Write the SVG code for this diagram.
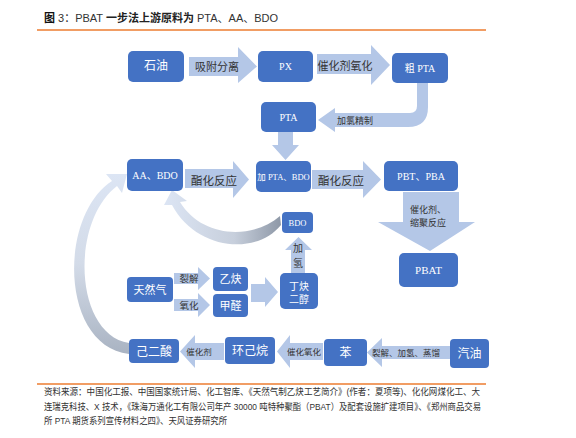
<svg xmlns="http://www.w3.org/2000/svg" width="576" height="438" viewBox="0 0 576 438">
<defs>
<style>
.box{fill:#4472c4}
.arr{fill:#b4c7e7}
.bt{fill:#fff;font-family:"Liberation Serif","Noto Sans CJK SC",serif;text-anchor:middle}
.lt{fill:#333;font-family:"Liberation Serif","Noto Sans CJK SC",serif;text-anchor:middle}
.src{fill:#333;font-family:"Liberation Sans","Noto Sans CJK SC",sans-serif;font-size:9.5px}
.rule{stroke:#ed7d31;stroke-width:1.5}
</style>
<linearGradient id="gBig" x1="0" y1="0" x2="0" y2="1">
<stop offset="0" stop-color="#dce5f4"/>
<stop offset="0.5" stop-color="#d3dbe8"/>
<stop offset="1" stop-color="#a9b3c2"/>
</linearGradient>
<linearGradient id="gSmall" x1="0" y1="0" x2="1" y2="0">
<stop offset="0" stop-color="#dce5f4"/>
<stop offset="0.6" stop-color="#c7cfdc"/>
<stop offset="1" stop-color="#8e98a7"/>
</linearGradient>
</defs>
<rect width="576" height="438" fill="#fff"/>

<text x="44" y="22" font-family="Liberation Sans,Noto Sans CJK SC,sans-serif" font-size="11" fill="#333"><tspan font-weight="bold" fill="#111">图</tspan> 3：PBAT <tspan font-weight="bold" fill="#222">一步法上游原料为</tspan> PTA、AA、BDO</text>
<line class="rule" x1="37" y1="30" x2="486" y2="30"/>

<g id="connectors">
<polygon class="arr" points="189,57 238,57 238,47 257,66.5 238,83 238,76 189,76"/>
<text class="lt" x="217" y="71" font-size="11">吸附分离</text>
<polygon class="arr" points="317,54 371,54 371,45 390,65 371,85 371,74 317,74"/>
<text class="lt" x="345" y="70" font-size="11">催化剂氧化</text>
<path class="arr" d="M417,83 L428,83 L428,107 Q428,127 408,127 L335,127 L335,132 L318,120 L335,108 L335,113 L410,113 Q417,113 417,106 Z"/>
<text class="lt" x="355" y="124" font-size="9">加氯精制</text>
<polygon class="arr" points="278,132 293,132 293,145 299,145 285.5,160 272,145 278,145"/>
<polygon class="arr" points="185,169 233,169 233,161 249,179.5 233,198 233,188 185,188"/>
<text class="lt" x="214" y="185" font-size="11.5">酯化反应</text>
<polygon class="arr" points="312,170 363,170 363,161 381,179.5 363,198 363,189 312,189"/>
<text class="lt" x="341" y="185" font-size="11.5">酯化反应</text>
<polygon class="arr" points="403,192 459,192 459,222 475,222 430,251 378,222 403,222"/>
<text class="lt" x="428" y="213" font-size="9">催化剂、</text>
<text class="lt" x="428" y="226" font-size="9">缩聚反应</text>
<polygon class="arr" points="291,273 305,273 305,250 312,250 298.5,237 285,250 291,250"/>
<text class="lt" x="298" y="252" font-size="10">加</text>
<text class="lt" x="298" y="267" font-size="10">氢</text>
<polygon class="arr" points="174,273 198,273 198,267 210,278.5 198,290 198,284 174,284"/>
<text class="lt" x="189" y="282" font-size="9.5">裂解</text>
<polygon class="arr" points="174,299 198,299 198,293 210,305 198,317 198,311 174,311"/>
<text class="lt" x="189" y="309" font-size="9.5">氧化</text>
<polygon class="arr" points="251,284 265,284 265,277 278,292 265,307 265,302 251,302"/>
<polygon class="arr" points="224,343 195,343 195,335 180,351.5 195,368 195,360 224,360"/>
<text class="lt" x="199" y="355" font-size="8.5">催化剂</text>
<polygon class="arr" points="323,343 290,343 290,335 277,351.5 290,368 290,360 323,360"/>
<text class="lt" x="304" y="355" font-size="8.5">催化氧化</text>
<polygon class="arr" points="450,346 382,346 382,338 367,352.5 382,367 382,359 450,359"/>
<text class="lt" x="406" y="356" font-size="8.5">裂解、加氢、蒸馏</text>
<path fill="url(#gBig)" d="M129,354 C60,346 58,216 112,181 L106,174 L127,174 L122,193 L117,186 C70,222 74,334 129,343 Z"/>
<path fill="url(#gSmall)" d="M281,225 C256,256 196,250 172,205 L164,205 L172,190 L187,201 L180,202 C202,238 252,240 280,216 Z"/>
</g>

<g id="n-shiyou"><rect class="box" x="128" y="51" width="56" height="31" rx="5"/><text class="bt" x="156" y="70" font-size="12">石油</text></g>
<g id="n-px"><rect class="box" x="258" y="51" width="55" height="31" rx="5"/><text class="bt" x="285.5" y="70" font-size="10">PX</text></g>
<g id="n-cupta"><rect class="box" x="392" y="53" width="56" height="30" rx="5"/><text class="bt" x="420" y="72" font-size="10">粗 PTA</text></g>
<g id="n-pta"><rect class="box" x="261" y="102" width="55" height="30" rx="5"/><text class="bt" x="288.5" y="121" font-size="10">PTA</text></g>
<g id="n-aabdo"><rect class="box" x="127" y="159" width="56" height="32" rx="5"/><text class="bt" x="155" y="179" font-size="10">AA、BDO</text></g>
<g id="n-jiapta"><rect class="box" x="256" y="161" width="55" height="31" rx="5"/><text class="bt" x="283.5" y="180" font-size="8.5">加 PTA、BDO</text></g>
<g id="n-pbtpba"><rect class="box" x="384" y="161" width="74" height="30" rx="5"/><text class="bt" x="421" y="180" font-size="10">PBT、PBA</text></g>
<g id="n-pbat"><rect class="box" x="399" y="253" width="59" height="34" rx="5"/><text class="bt" x="428.5" y="274" font-size="11">PBAT</text></g>
<g id="n-bdo"><rect class="box" x="282" y="212" width="31" height="21" rx="4"/><text class="bt" x="297.5" y="225.5" font-size="8.5">BDO</text></g>
<g id="n-dingque"><rect class="box" x="280" y="273" width="38" height="36" rx="5"/><text class="bt" x="299" y="290" font-size="10">丁炔</text><text class="bt" x="299" y="303" font-size="10">二醇</text></g>
<g id="n-tianranqi"><rect class="box" x="127" y="277" width="46" height="25" rx="4"/><text class="bt" x="150" y="293.5" font-size="11">天然气</text></g>
<g id="n-yique"><rect class="box" x="213" y="267" width="35" height="24" rx="4"/><text class="bt" x="230.5" y="283" font-size="11">乙炔</text></g>
<g id="n-jiaquan"><rect class="box" x="213" y="294" width="35" height="23" rx="4"/><text class="bt" x="230.5" y="310" font-size="11">甲醛</text></g>
<g id="n-jiersuan"><rect class="box" x="129" y="339" width="50" height="24" rx="4"/><text class="bt" x="154" y="355.5" font-size="12">己二酸</text></g>
<g id="n-huanjiwan"><rect class="box" x="225" y="337" width="50" height="27" rx="4"/><text class="bt" x="250" y="355" font-size="12">环己烷</text></g>
<g id="n-ben"><rect class="box" x="324" y="339" width="43" height="27" rx="4"/><text class="bt" x="345.5" y="357" font-size="12">苯</text></g>
<g id="n-qiyou"><rect class="box" x="450" y="339" width="39" height="29" rx="4"/><text class="bt" x="469.5" y="358" font-size="12">汽油</text></g>

<line class="rule" x1="37" y1="384" x2="486" y2="384"/>
<text class="src" x="44" y="395" textLength="436" lengthAdjust="spacingAndGlyphs">资料来源：中国化工报、中国国家统计局、化工智库、《天然气制乙炔工艺简介》(作者：夏项等)、化化网煤化工、大</text>
<text class="src" x="44" y="410" textLength="437" lengthAdjust="spacingAndGlyphs">连瑞克科技、X 技术，《珠海万通化工有限公司年产 30000 吨特种聚酯（PBAT）及配套设施扩建项目》、《郑州商品交易</text>
<text class="src" x="44" y="424" textLength="183" lengthAdjust="spacingAndGlyphs">所 PTA 期货系列宣传材料之四》、天风证券研究所</text>
</svg>
